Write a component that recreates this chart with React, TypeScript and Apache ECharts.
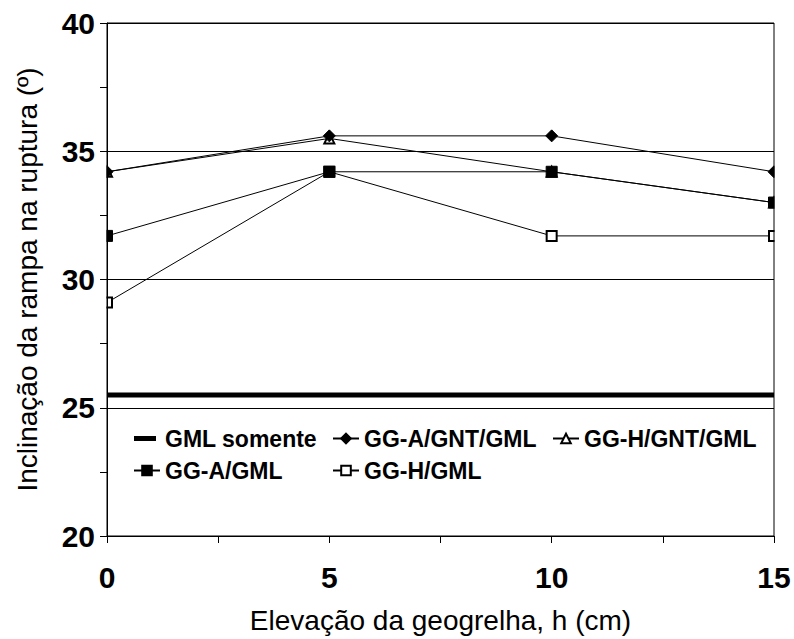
import React, { useEffect, useRef } from "react";
import * as echarts from "echarts";

const W = 794;
const H = 639;
const GRID_LEFT = 107;
const GRID_RIGHT = 20;
const GRID_TOP = 23;
const GRID_BOTTOM = 103;

const xValues = [0, 5, 10, 15];
const gmlSomente = [25.5, 25.5, 25.5, 25.5];
const ggaGntGml = [34.2, 35.6, 35.6, 34.2];
const gghGntGml = [34.2, 35.5, 34.2, 33.0];
const ggaGml = [31.7, 34.2, 34.2, 33.0];
const gghGml = [29.1, 34.2, 31.7, 31.7];

const seriesNames = ["GML somente", "GG-A/GNT/GML", "GG-H/GNT/GML", "GG-A/GML", "GG-H/GML"];

const pairs = (ys: number[]) => xValues.map((x, i) => [x, ys[i]]);

const FONT = "Liberation Sans";

export default function App() {
  const ref = useRef<HTMLDivElement>(null);
  useEffect(() => {
    document.body.style.margin = "0";
    if (!ref.current) return;
    const chart = echarts.init(ref.current, null, { renderer: "svg" });
    const legendText = { fontSize: 23, fontWeight: "bold", color: "#000", fontFamily: FONT, lineHeight: 23 };
    const axisCommon = {
      z: 20,
      axisLine: { show: true, lineStyle: { color: "#000", width: 1 } },
      axisTick: { show: true, length: 7, lineStyle: { color: "#000", width: 1 } },
      minorTick: { show: true, splitNumber: 2, length: 7, lineStyle: { color: "#000", width: 1 } },
    };
    const lineSeries = (name: string, ys: number[], symbol: string, size: any, z: number) => ({
      name,
      type: "line",
      data: pairs(ys),
      symbol,
      symbolSize: size,
      z,
      clip: false,
      lineStyle: { color: "#000", width: 1 },
      itemStyle: { color: "#000", borderColor: "#000", borderWidth: 1 },
    });
    const legendBase = {
      orient: "vertical",
      top: 427,
      padding: 0,
      itemWidth: 26,
      itemHeight: 12,
      itemGap: 9,
      selectedMode: false,
      z: 9,
      textStyle: legendText,
    };
    const maskH = H - GRID_TOP - GRID_BOTTOM + 20;
    chart.setOption({
      animation: false,
      backgroundColor: "#fff",
      textStyle: { fontFamily: FONT },
      grid: {
        left: GRID_LEFT,
        right: GRID_RIGHT,
        top: GRID_TOP,
        bottom: GRID_BOTTOM,
        show: true,
        borderColor: "#000",
        borderWidth: 1,
        backgroundColor: "transparent",
        z: 20,
      },
      xAxis: {
        ...axisCommon,
        type: "value",
        min: 0,
        max: 15,
        interval: 5,
        splitLine: { show: false },
        axisLabel: { fontSize: 30, fontWeight: "bold", color: "#000", fontFamily: FONT, margin: 26 },
        name: "Elevação da geogrelha, h (cm)",
        nameLocation: "middle",
        nameGap: 70,
        nameTextStyle: { fontSize: 28, color: "#000", fontFamily: FONT },
      },
      yAxis: {
        ...axisCommon,
        type: "value",
        min: 20,
        max: 40,
        interval: 5,
        splitLine: { show: true, lineStyle: { color: "#000", width: 1 } },
        axisLabel: { fontSize: 30, fontWeight: "bold", color: "#000", fontFamily: FONT, margin: 12 },
        name: "Inclinação da rampa na ruptura (º)",
        nameLocation: "middle",
        nameGap: 66,
        nameTextStyle: { fontSize: 28, color: "#000", fontFamily: FONT },
      },
      legend: [
        {
          ...legendBase,
          left: 133,
          data: [
            { name: seriesNames[0], icon: "path://M0,0H22V5H0ZM26,5L26,5", itemStyle: { color: "#000" } },
            seriesNames[3],
          ],
        },
        { ...legendBase, left: 332, data: [seriesNames[1], seriesNames[4]] },
        { ...legendBase, left: 552, data: [seriesNames[2]] },
      ],
      series: [
        {
          name: seriesNames[0],
          type: "line",
          data: pairs(gmlSomente),
          symbol: "none",
          z: 2,
          lineStyle: { color: "#000", width: 5 },
          itemStyle: { color: "#000" },
        },
        lineSeries(seriesNames[4], gghGml, "emptyRect", 10, 3),
        lineSeries(seriesNames[2], gghGntGml, "emptyTriangle", 10, 4),
        lineSeries(seriesNames[3], ggaGml, "rect", 11, 5),
        lineSeries(seriesNames[1], ggaGntGml, "diamond", [12, 12], 6),
        {
          type: "custom",
          coordinateSystem: "none",
          data: [[0]],
          z: 15,
          silent: true,
          clip: false,
          renderItem: () => ({
            type: "group",
            children: [
              {
                type: "rect",
                shape: { x: 0, y: GRID_TOP - 10, width: GRID_LEFT - 0.5, height: maskH },
                style: { fill: "#fff" },
              },
              {
                type: "rect",
                shape: { x: W - GRID_RIGHT + 0.5, y: GRID_TOP - 10, width: GRID_RIGHT, height: maskH },
                style: { fill: "#fff" },
              },
            ],
          }),
        },
      ],
    });
    return () => chart.dispose();
  }, []);
  return <div ref={ref} style={{ width: W, height: H }} />;
}
